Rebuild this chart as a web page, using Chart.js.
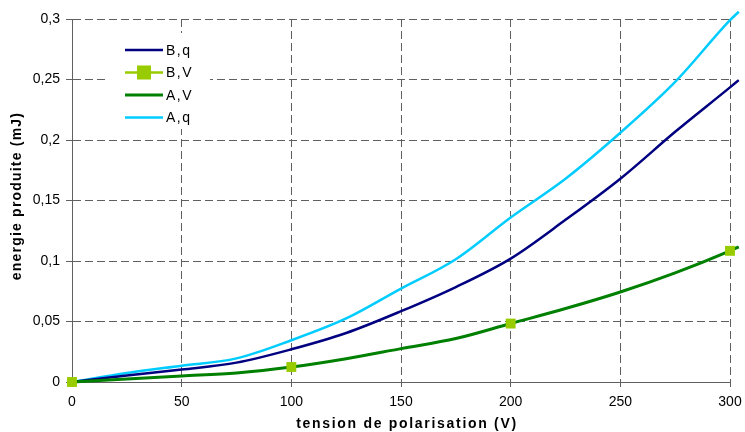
<!DOCTYPE html>
<html>
<head>
<meta charset="utf-8">
<script src="https://cdn.jsdelivr.net/npm/chart.js@4.4.1/dist/chart.umd.min.js"></script>
<style>
    body { margin: 0; background: #fff; }
    #wrap { width: 745px; height: 432px; position: relative; }
</style>
</head>
<body>
<div id="wrap"><canvas id="energyChart"></canvas></div>
<script>
// Tension de polarisation (V)
const tensions = [0, 25, 50, 75, 100, 125, 150, 175, 200, 225, 250, 275, 300, 304];

// Energie produite (mJ)
const energyBq = [0, 0.0054, 0.0103, 0.016, 0.027, 0.0405, 0.0585, 0.0785, 0.102, 0.134, 0.168, 0.2068, 0.2435, 0.2495];
const energyAV = [0, 0.0025, 0.005, 0.0075, 0.0124, 0.0193, 0.0276, 0.0359, 0.0483, 0.0607, 0.0744, 0.0902, 0.1084, 0.1117];
const energyAq = [0, 0.0075, 0.0135, 0.0195, 0.0345, 0.0525, 0.0772, 0.1015, 0.136, 0.168, 0.206, 0.248, 0.299, 0.306];

// B,V : seulement les points mesurés
const tensionsBV = [0, 100, 200, 300];
const energyBV = [0, 0.0124, 0.0483, 0.1084];

const xTickLabels = ['0', '50', '100', '150', '200', '250', '300'];
const yTickLabels = ['0', '0,05', '0,1', '0,15', '0,2', '0,25', '0,3'];

const seriesLabels = ['B,q', 'B,V', 'A,V', 'A,q'];

const NAVY = '#000080';
const LIME = '#99CC00';
const GREEN = '#008000';
const CYAN = '#00CCFF';
const GRID = '#606060';

function toPoints(xs, ys) {
    return xs.map((x, i) => ({ x: x, y: ys[i] }));
}

// Légende et titres des axes dessinés à la main
const decorPlugin = {
    id: 'decor',
    afterDraw(chart) {
        const ctx = chart.ctx;
        ctx.save();

        // fond blanc de la légende
        ctx.fillStyle = '#fff';
        ctx.fillRect(107, 33, 103, 96);

        const entries = [
            { label: seriesLabels[0], color: NAVY, width: 2.5, marker: false },
            { label: seriesLabels[1], color: LIME, width: 2.5, marker: true },
            { label: seriesLabels[2], color: GREEN, width: 3, marker: false },
            { label: seriesLabels[3], color: CYAN, width: 2.5, marker: false }
        ];
        ctx.font = '14px "Liberation Sans", Arial, sans-serif';
        ctx.textBaseline = 'middle';
        ctx.textAlign = 'left';
        ctx.letterSpacing = '1.5px';
        entries.forEach((e, i) => {
            const y = 50 + i * 22.5;
            ctx.strokeStyle = e.color;
            ctx.lineWidth = e.width;
            ctx.beginPath();
            ctx.moveTo(125, y);
            ctx.lineTo(163, y);
            ctx.stroke();
            if (e.marker) {
                ctx.fillStyle = LIME;
                ctx.fillRect(137, y - 7, 14, 14);
            }
            ctx.fillStyle = '#000';
            ctx.fillText(e.label, 166, y + 1);
        });

        // titres des axes
        ctx.font = 'bold 14px "Liberation Sans", Arial, sans-serif';
        ctx.textAlign = 'center';
        ctx.letterSpacing = '1.7px';
        ctx.fillText('tension de polarisation (V)', 407, 424);

        ctx.letterSpacing = '1.2px';
        ctx.translate(17, 196);
        ctx.rotate(-Math.PI / 2);
        ctx.fillText('energie produite (mJ)', 0, 0);

        ctx.restore();
    }
};

function initEnergyChart() {
    const ctx = document.getElementById('energyChart').getContext('2d');
    const lineDefaults = {
        pointRadius: 0,
        pointHoverRadius: 0,
        fill: false,
        cubicInterpolationMode: 'monotone',
        clip: false
    };

    return new Chart(ctx, {
        type: 'line',
        data: {
            datasets: [
                {
                    label: seriesLabels[1],
                    data: toPoints(tensionsBV, energyBV),
                    showLine: false,
                    pointStyle: 'rect',
                    pointRadius: 7,
                    pointBackgroundColor: LIME,
                    pointBorderColor: LIME,
                    pointBorderWidth: 0,
                    borderColor: LIME,
                    backgroundColor: LIME,
                    clip: false,
                    order: 0
                },
                Object.assign({
                    label: seriesLabels[2],
                    data: toPoints(tensions, energyAV),
                    borderColor: GREEN,
                    borderWidth: 3,
                    order: 1
                }, lineDefaults),
                Object.assign({
                    label: seriesLabels[0],
                    data: toPoints(tensions, energyBq),
                    borderColor: NAVY,
                    borderWidth: 2.5,
                    order: 2
                }, lineDefaults),
                Object.assign({
                    label: seriesLabels[3],
                    data: toPoints(tensions, energyAq),
                    borderColor: CYAN,
                    borderWidth: 2.5,
                    order: 3
                }, lineDefaults)
            ]
        },
        options: {
            responsive: true,
            maintainAspectRatio: false,
            animation: false,
            layout: {
                padding: { left: 0, right: 15, top: 19, bottom: 0 }
            },
            scales: {
                x: {
                    type: 'linear',
                    // l'axe s'arrête à 300 mais les courbes continuent un peu au-delà
                    afterDataLimits: (scale) => { scale.min = 0; scale.max = 300; },
                    afterFit: (scale) => {
                        scale.height = 50;
                        scale.paddingLeft = 0;
                        scale.paddingRight = 0;
                    },
                    ticks: {
                        stepSize: 50,
                        padding: 7,
                        color: '#000',
                        font: { family: '"Liberation Sans", Arial, sans-serif', size: 14 },
                        maxRotation: 0,
                        callback: (value, index) => xTickLabels[index]
                    },
                    grid: {
                        color: GRID,
                        lineWidth: 1,
                        tickLength: 5
                    },
                    border: {
                        display: true,
                        color: GRID,
                        width: 1,
                        dash: [8, 4]
                    }
                },
                y: {
                    min: 0,
                    max: 0.3,
                    afterFit: (scale) => { scale.width = 72; },
                    ticks: {
                        stepSize: 0.05,
                        padding: 6,
                        color: '#000',
                        font: { family: '"Liberation Sans", Arial, sans-serif', size: 14 },
                        callback: (value, index) => yTickLabels[index]
                    },
                    grid: {
                        color: GRID,
                        lineWidth: 1,
                        tickLength: 6
                    },
                    border: {
                        display: true,
                        color: GRID,
                        width: 1,
                        dash: [8, 4]
                    }
                }
            },
            plugins: {
                legend: { display: false },
                tooltip: { enabled: false }
            }
        },
        plugins: [decorPlugin]
    });
}

document.addEventListener('DOMContentLoaded', () => {
    initEnergyChart();
});
</script>
</body>
</html>
